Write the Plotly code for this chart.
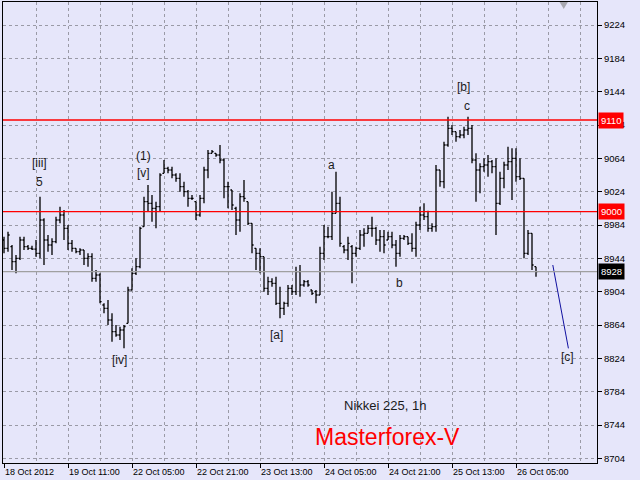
import plotly.graph_objects as go

# ---- data (hourly bars, index 0..133) ----
highs = [8970, 8976, 8960, 8948, 8970, 8970, 8960, 8959, 8966, 9018,
         8992, 8972, 8968, 8994, 9006, 9002, 8984, 8966, 8956, 8956,
         8954, 8950, 8950, 8930, 8926, 8890, 8894, 8878, 8864, 8862,
         8864, 8910, 8932, 8944, 8982, 9018, 9032, 9020, 9012, 9046,
         9062, 9054, 9054, 9046, 9046, 9036, 9026, 9020, 9012, 9020,
         9054, 9074, 9074, 9070, 9080, 9064, 9036, 9026, 9006, 9022,
         9038, 9012, 8986, 8956, 8956, 8946, 8922, 8920, 8922, 8910,
         8892, 8912, 8912, 8934, 8936, 8918, 8918, 8906, 8906, 8958,
         8984, 8982, 9024, 9048, 9018, 8960, 8970, 8960, 8958, 8978,
         8980, 8984, 8994, 8982, 8978, 8978, 8976, 8976, 8966, 8972,
         8972, 8970, 8974, 8988, 9006, 9010, 9001, 8986, 9056, 9050,
         9084, 9114, 9104, 9096, 9098, 9102, 9114, 9104, 9070, 9058,
         9064, 9068, 9062, 9064, 9048, 9060, 9078, 9076, 9076, 9064,
         9040, 8978, 8974, 8934]
lows = [8950, 8952, 8930, 8926, 8942, 8954, 8954, 8954, 8946, 8944,
        8936, 8952, 8948, 8962, 8986, 8966, 8954, 8952, 8950, 8948,
        8936, 8934, 8916, 8916, 8890, 8878, 8864, 8844, 8850, 8846,
        8836, 8866, 8906, 8924, 8932, 8982, 9000, 8988, 8980, 9000,
        9046, 9046, 9040, 9036, 9024, 9018, 9006, 9014, 8990, 8994,
        9010, 9040, 9070, 9066, 9058, 9016, 9004, 9002, 8972, 8976,
        9012, 8984, 8950, 8930, 8926, 8904, 8900, 8910, 8888, 8872,
        8876, 8886, 8900, 8900, 8898, 8910, 8910, 8900, 8890, 8900,
        8942, 8968, 8966, 8998, 8958, 8950, 8942, 8914, 8946, 8954,
        8958, 8974, 8970, 8960, 8952, 8950, 8966, 8956, 8934, 8946,
        8966, 8960, 8952, 8946, 8978, 8990, 8976, 8976, 8976, 9030,
        9028, 9078, 9092, 9084, 9088, 9088, 9092, 9058, 9012, 9022,
        9048, 9042, 9046, 8972, 9008, 9028, 9050, 9014, 9036, 9038,
        8944, 8948, 8930, 8922]
closes = [8956, 8972, 8940, 8944, 8966, 8958, 8956, 8955, 8950, 8990,
          8966, 8960, 8964, 8990, 8996, 8980, 8962, 8956, 8952, 8954,
          8944, 8946, 8920, 8924, 8892, 8884, 8870, 8856, 8852, 8858,
          8862, 8906, 8926, 8934, 8980, 9012, 9010, 9004, 9006, 9044,
          9052, 9050, 9044, 9040, 9030, 9024, 9016, 9016, 8996, 9016,
          9050, 9070, 9072, 9068, 9062, 9030, 9030, 9008, 8990, 9018,
          9016, 8986, 8960, 8950, 8946, 8908, 8916, 8914, 8890, 8884,
          8890, 8908, 8904, 8928, 8912, 8916, 8912, 8902, 8900, 8950,
          8970, 8970, 8998, 9010, 8962, 8954, 8962, 8950, 8956, 8972,
          8974, 8980, 8980, 8966, 8970, 8960, 8970, 8960, 8950, 8968,
          8970, 8962, 8956, 8984, 8996, 8994, 8980, 8982, 9050, 9036,
          9080, 9100, 9096, 9090, 9092, 9098, 9100, 9062, 9050, 9054,
          9056, 9060, 9054, 9010, 9040, 9056, 9060, 9064, 9042, 9040,
          8950, 8974, 8936, 8928]
opens = [8966, 8956, 8958, 8940, 8944, 8966, 8958, 8956, 8955, 8950,
         8990, 8966, 8960, 8964, 8990, 8996, 8980, 8962, 8956, 8952,
         8954, 8944, 8946, 8920, 8924, 8888, 8884, 8870, 8856, 8852,
         8858, 8866, 8906, 8926, 8934, 8982, 9012, 9010, 9004, 9006,
         9046, 9052, 9050, 9044, 9040, 9030, 9024, 9016, 9012, 8996,
         9016, 9050, 9070, 9070, 9068, 9062, 9030, 9026, 9004, 8990,
         9018, 9012, 8986, 8956, 8950, 8946, 8908, 8916, 8914, 8890,
         8884, 8890, 8908, 8904, 8928, 8912, 8916, 8906, 8904, 8900,
         8950, 8970, 8970, 8998, 9010, 8958, 8954, 8958, 8950, 8956,
         8972, 8974, 8980, 8980, 8966, 8970, 8966, 8970, 8960, 8950,
         8968, 8970, 8962, 8956, 8984, 8996, 8994, 8980, 8982, 9050,
         9036, 9080, 9100, 9096, 9090, 9092, 9098, 9100, 9062, 9050,
         9054, 9056, 9060, 9054, 9010, 9040, 9056, 9060, 9064, 9042,
         9040, 8950, 8974, 8934]
bar_index = list(range(len(closes)))

tick_idx = [0, 16, 32, 48, 64, 80, 96, 112, 128]
tick_text = ["18 Oct 2012", "19 Oct 11:00", "22 Oct 05:00", "22 Oct 21:00",
             "23 Oct 13:00", "24 Oct 05:00", "24 Oct 21:00", "25 Oct 13:00",
             "26 Oct 05:00"]

levels_red = [9110, 9000]
level_last = 8928

proj_x = [137.2, 141.1]
proj_y = [8936, 8836]

wave_labels = [
    ("[iii]", 8.75, 9058), ("5", 8.75, 9036),
    ("(1)", 34.75, 9067), ("[v]", 34.75, 9046),
    ("[iv]", 28.75, 8822), ("[a]", 68.0, 8852),
    ("a", 81.75, 9056), ("b", 98.75, 8914),
    ("[b]", 114.75, 9150), ("c", 115.75, 9127),
    ("[c]", 140.75, 8826),
]

BG = "#E6E6FA"
GRID = "#9A9AA6"

fig = go.Figure()
fig.add_trace(go.Ohlc(
    x=bar_index, open=opens, high=highs, low=lows, close=closes,
    increasing=dict(line=dict(color="black", width=1.3)),
    decreasing=dict(line=dict(color="black", width=1.3)),
    tickwidth=0.4, hoverinfo="skip", showlegend=False))

fig.add_trace(go.Scatter(x=proj_x, y=proj_y, mode="lines",
                         line=dict(color="#1010A0", width=1),
                         hoverinfo="skip", showlegend=False))

for lv in levels_red:
    fig.add_hline(y=lv, line=dict(color="#FF0000", width=1.3))
fig.add_hline(y=level_last, line=dict(color="#A0A0A0", width=1.2))

for txt, xx, yy in wave_labels:
    fig.add_annotation(x=xx, y=yy, text=txt, showarrow=False,
                       font=dict(family="Liberation Sans", size=12, color="#1a1a1a"))

fig.add_annotation(x=95.25, y=8767, text="Nikkei 225, 1h", showarrow=False,
                   font=dict(family="Liberation Sans", size=13, color="#1a1a1a"))
fig.add_annotation(x=95.75, y=8730, text="Masterforex-V", showarrow=False,
                   font=dict(family="Liberation Sans", size=23, color="red"))

for lv, col in [(9110, "red"), (9000, "red"), (level_last, "black")]:
    fig.add_annotation(xref="paper", x=1, xanchor="left", xshift=1, y=lv,
                       text=str(lv), showarrow=False, bgcolor=col,
                       borderpad=2,
                       font=dict(family="Liberation Sans", size=9.5, color="white"))

# shift marker triangle at top
fig.add_shape(type="path", xref="paper", yref="paper",
              path="M 0.937 1 L 0.951 1 L 0.944 0.985 Z",
              fillcolor="#A8A8B0", line=dict(width=0))

fig.update_layout(
    width=640, height=480,
    margin=dict(l=3, r=43, t=2, b=17),
    paper_bgcolor=BG, plot_bgcolor=BG,
    font=dict(family="Liberation Sans", size=9.5, color="black"),
    xaxis=dict(range=[-0.25, 148.25], rangeslider=dict(visible=False),
               tickmode="array", tickvals=tick_idx, ticktext=tick_text,
               ticks="outside", ticklen=4, tickcolor="black",
               ticklabelposition="outside right",
               tickfont=dict(size=9),
               showgrid=True, gridcolor=GRID, griddash="3px,3px", gridwidth=1,
               minor=dict(tickvals=[i + 8 for i in tick_idx] + [136, 144],
                          showgrid=True, gridcolor=GRID, griddash="3px,3px", ticks=""),
               showline=True, linecolor="black", linewidth=1, mirror=True,
               zeroline=False, fixedrange=True),
    yaxis=dict(range=[8698.4, 9251.6], side="right",
               tickmode="linear", tick0=8704, dtick=40,
               ticks="outside", ticklen=4, tickcolor="black",
               showgrid=True, gridcolor=GRID, griddash="3px,3px", gridwidth=1,
               showline=True, linecolor="black", linewidth=1, mirror=True,
               zeroline=False, fixedrange=True),
)

fig.write_html("out.html", config={"displayModeBar": False},
               post_script="document.body.style.margin='0px';document.body.style.padding='0px';document.body.style.background='%s';" % BG)
